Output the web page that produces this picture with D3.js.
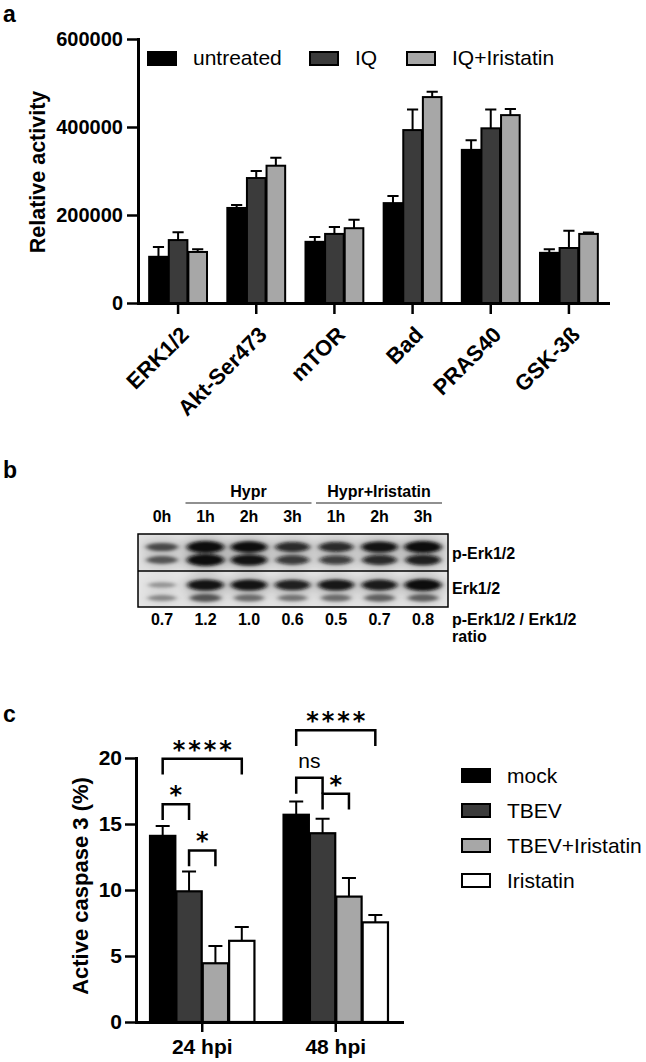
<!DOCTYPE html>
<html>
<head>
<meta charset="utf-8">
<script src="https://cdn.jsdelivr.net/npm/d3@7"></script>
<style>
  body { margin: 0; background: #fff; }
  svg { display: block; }
  text { font-family: "Liberation Sans", Arial, Helvetica, sans-serif; fill: #000; }
  text.star { font-family: "DejaVu Sans", sans-serif; }
</style>
</head>
<body>
<script>
// ---------- panel a : kinase activity ----------
var kinases      = ["ERK1/2", "Akt-Ser473", "mTOR", "Bad", "PRAS40", "GSK-3ß"];
var treatmentsA  = ["untreated", "IQ", "IQ+Iristatin"];
var untreated    = [105000, 216000, 139000, 227000, 348000, 114000];
var untreatedErr = [22000, 7000, 11000, 16000, 22000, 8000];
var iq           = [143000, 284000, 157000, 393000, 397000, 125000];
var iqErr        = [18000, 16000, 16000, 47000, 43000, 39000];
var iqIri        = [116000, 312000, 170000, 468000, 427000, 157000];
var iqIriErr     = [6000, 18000, 19000, 12000, 14000, 3000];
var yTicksA      = [0, 200000, 400000, 600000];

// ---------- panel b : western blot ----------
var lanes      = ["0h", "1h", "2h", "3h", "1h", "2h", "3h"];
var groupNames = ["Hypr", "Hypr+Iristatin"];
var groupLanes = [[1, 3], [4, 6]];
var ratios     = ["0.7", "1.2", "1.0", "0.6", "0.5", "0.7", "0.8"];
var pErkUpper  = [0.6, 1.0, 0.95, 0.8, 0.8, 0.92, 1.0];   // band intensity (0..1)
var pErkLower  = [0.55, 1.0, 0.92, 0.72, 0.7, 0.8, 0.85];
var erkUpper   = [0.3, 0.92, 0.92, 0.85, 0.9, 0.88, 0.98];
var erkLower   = [0.35, 0.55, 0.45, 0.42, 0.45, 0.5, 0.5];
var rowLabels  = ["p-Erk1/2", "Erk1/2"];

// ---------- panel c : active caspase 3 ----------
var times       = ["24 hpi", "48 hpi"];
var treatmentsC = ["mock", "TBEV", "TBEV+Iristatin", "Iristatin"];
var mock        = [14.1, 15.7];
var mockErr     = [0.75, 1.0];
var tbev        = [9.9, 14.3];
var tbevErr     = [1.5, 1.1];
var tbevIri     = [4.45, 9.5];
var tbevIriErr  = [1.3, 1.4];
var iri         = [6.15, 7.55];
var iriErr      = [1.05, 0.55];
var yTicksC     = [0, 5, 10, 15, 20];
// significance brackets
var sigTime  = [0, 0, 0, 1, 1, 1];
var sigFrom  = [0, 0, 1, 0, 0, 1];
var sigTo    = [3, 1, 2, 3, 1, 2];
var sigLevel = [19.95, 16.5, 13.0, 22.1, 18.5, 17.3];
var sigLabel = ["****", "*", "*", "****", "ns", "*"];

var svg = d3.select("body").append("svg").attr("width", 646).attr("height", 1062);
var defs = svg.append("defs");

//panel letters
svg.append("text").attr("x", 3).attr("y", 22).text("a").style("font-size", "23px").style("font-weight", "bold");
svg.append("text").attr("x", 3).attr("y", 478).text("b").style("font-size", "23px").style("font-weight", "bold");
svg.append("text").attr("x", 3).attr("y", 722).text("c").style("font-size", "23px").style("font-weight", "bold");

function styleAxis(g, size) {
	g.select(".domain").attr("stroke", "#000").attr("stroke-width", 3).attr("stroke-linecap", "square");
	g.selectAll(".tick line").attr("stroke", "#000").attr("stroke-width", 2.5);
	g.selectAll(".tick text").style("font-size", size + "px").style("font-weight", "bold");
}

/////////////////////////////////////////////////////////
////////////////////// panel a //////////////////////////
/////////////////////////////////////////////////////////
var gA = svg.append("g");
var seriesA = [untreated, iq, iqIri];
var errorsA = [untreatedErr, iqErr, iqIriErr];
var colorsA = ["#000000", "#3b3b3b", "#a7a7a7"];

var xA = d3.scaleBand().domain(kinases).range([139, 608]).paddingInner(0.26).paddingOuter(0.13);
var xA2 = d3.scaleBand().domain(treatmentsA).range([0, xA.bandwidth()]).paddingInner(0.05);
var yA = d3.scaleLinear().domain([0, 600000]).range([303, 39]);

treatmentsA.forEach(function(t, s) {
	var g = gA.append("g");
	//error bars (upper only)
	g.selectAll(".err").data(kinases).join("path")
		.attr("d", function(d, i) {
			var cx = xA(d) + xA2(t) + xA2.bandwidth() / 2,
				top = yA(seriesA[s][i] + errorsA[s][i]), w = xA2.bandwidth() * 0.3;
			return "M" + cx + "," + yA(seriesA[s][i]) + "V" + top + "M" + (cx - w) + "," + top + "H" + (cx + w);
		})
		.attr("stroke", "#000").attr("stroke-width", 2).attr("fill", "none");
	g.selectAll(".bar").data(kinases).join("rect")
		.attr("x", function(d) { return xA(d) + xA2(t); })
		.attr("y", function(d, i) { return yA(seriesA[s][i]); })
		.attr("width", xA2.bandwidth())
		.attr("height", function(d, i) { return yA(0) - yA(seriesA[s][i]); })
		.attr("fill", colorsA[s]).attr("stroke", "#000").attr("stroke-width", 2);
});

var axYA = gA.append("g").attr("transform", "translate(138,0)")
	.call(d3.axisLeft(yA).tickValues(yTicksA).tickFormat(d3.format("d")).tickSize(11).tickSizeOuter(0).tickPadding(4));
styleAxis(axYA, 20);

var axXA = gA.append("g").attr("transform", "translate(0,303)")
	.call(d3.axisBottom(xA).tickSize(11).tickSizeOuter(0));
styleAxis(axXA, 22);
axXA.selectAll(".tick text")
	.attr("y", 0).attr("dy", null)
	.attr("text-anchor", "end")
	.attr("transform", "translate(12,33) rotate(-45)");

gA.append("text").attr("transform", "translate(45,172) rotate(-90)")
	.attr("text-anchor", "middle").style("font-size", "21.5px").style("font-weight", "bold")
	.text("Relative activity");

//legend
var legAx = [148, 310, 407];
var legA = gA.selectAll(".legA").data(treatmentsA).join("g")
	.attr("transform", function(d, i) { return "translate(" + legAx[i] + ",52)"; });
legA.append("rect").attr("width", 28).attr("height", 13)
	.attr("fill", function(d, i) { return colorsA[i]; }).attr("stroke", "#000").attr("stroke-width", 2);
legA.append("text").attr("x", 45).attr("y", 13).style("font-size", "21px").text(function(d) { return d; });

/////////////////////////////////////////////////////////
////////////////////// panel b //////////////////////////
/////////////////////////////////////////////////////////
var gB = svg.append("g");
var xB = d3.scalePoint().domain(d3.range(lanes.length)).range([162, 423]);
var blot = {x: 138, y: 534, w: 310, h: 73, mid: 571};

defs.append("filter").attr("id", "bandBlur")
	.attr("x", "-50%").attr("y", "-150%").attr("width", "200%").attr("height", "400%")
	.append("feGaussianBlur").attr("stdDeviation", "2.6 1.8");
defs.append("filter").attr("id", "haloBlur")
	.attr("x", "-50%").attr("y", "-150%").attr("width", "200%").attr("height", "400%")
	.append("feGaussianBlur").attr("stdDeviation", "6 4");
defs.append("clipPath").attr("id", "blotClip").append("rect")
	.attr("x", blot.x).attr("y", blot.y).attr("width", blot.w).attr("height", blot.h);

gB.append("rect").attr("x", blot.x).attr("y", blot.y).attr("width", blot.w).attr("height", blot.mid - blot.y).attr("fill", "#e2e2e2");
gB.append("rect").attr("x", blot.x).attr("y", blot.mid).attr("width", blot.w).attr("height", blot.y + blot.h - blot.mid).attr("fill", "#e6e6e6");

var bandH = d3.scaleLinear().domain([0, 1]).range([1.3, 6]);
var bandW = d3.scaleLinear().domain([0, 1]).range([12, 18.5]);
var bandRows = [pErkUpper, pErkLower, erkUpper, erkLower];
var bandY = [547, 560, 585, 598];
var clipG = gB.append("g").attr("clip-path", "url(#blotClip)");
var halo = clipG.append("g").attr("filter", "url(#haloBlur)");
var bands = clipG.append("g").attr("filter", "url(#bandBlur)");
bandRows.forEach(function(row, r) {
	halo.selectAll(".halo" + r).data(row).join("ellipse")
		.attr("cx", function(d, i) { return xB(i); })
		.attr("cy", bandY[r])
		.attr("rx", function(d) { return bandW(d) + 4; })
		.attr("ry", function(d) { return bandH(d) + 4; })
		.attr("fill", "#000")
		.attr("fill-opacity", function(d) { return d * 0.22; });
	bands.selectAll(".band" + r).data(row).join("ellipse")
		.attr("cx", function(d, i) { return xB(i); })
		.attr("cy", bandY[r])
		.attr("rx", function(d) { return bandW(d); })
		.attr("ry", function(d) { return bandH(d); })
		.attr("fill", "#0a0a0a")
		.attr("fill-opacity", function(d) { return Math.min(1, d * 1.05); });
});
gB.append("rect").attr("x", blot.x).attr("y", blot.y).attr("width", blot.w).attr("height", blot.h)
	.attr("fill", "none").attr("stroke", "#000").attr("stroke-width", 1.5);
gB.append("line").attr("x1", blot.x).attr("x2", blot.x + blot.w).attr("y1", blot.mid).attr("y2", blot.mid)
	.attr("stroke", "#000").attr("stroke-width", 1.5);

gB.selectAll(".lane").data(lanes).join("text")
	.attr("x", function(d, i) { return xB(i); }).attr("y", 522)
	.attr("text-anchor", "middle").style("font-size", "16px").style("font-weight", "bold")
	.text(function(d) { return d; });
gB.selectAll(".ratio").data(ratios).join("text")
	.attr("x", function(d, i) { return xB(i); }).attr("y", 625)
	.attr("text-anchor", "middle").style("font-size", "16px").style("font-weight", "bold")
	.text(function(d) { return d; });

groupNames.forEach(function(n, i) {
	var x0 = xB(groupLanes[i][0]) - 20, x1 = xB(groupLanes[i][1]) + 19;
	gB.append("line").attr("x1", x0).attr("x2", x1).attr("y1", 503).attr("y2", 503).attr("stroke", "#222").attr("stroke-width", 1.2);
	gB.append("text").attr("x", (x0 + x1) / 2).attr("y", 497).attr("text-anchor", "middle")
		.style("font-size", "16px").style("font-weight", "bold").text(n);
});

gB.append("text").attr("x", 452).attr("y", 559).style("font-size", "16px").style("font-weight", "bold").text(rowLabels[0]);
gB.append("text").attr("x", 452).attr("y", 594).style("font-size", "16px").style("font-weight", "bold").text(rowLabels[1]);
gB.append("text").attr("x", 452).attr("y", 625).style("font-size", "16px").style("font-weight", "bold").text(rowLabels[0] + " / " + rowLabels[1]);
gB.append("text").attr("x", 452).attr("y", 642).style("font-size", "16px").style("font-weight", "bold").text("ratio");

/////////////////////////////////////////////////////////
////////////////////// panel c //////////////////////////
/////////////////////////////////////////////////////////
var gC = svg.append("g");
var seriesC = [mock, tbev, tbevIri, iri];
var errorsC = [mockErr, tbevErr, tbevIriErr, iriErr];
var colorsC = ["#000000", "#3b3b3b", "#a7a7a7", "#ffffff"];

var xC = d3.scaleBand().domain(times).range([136, 402]).paddingInner(0.218).paddingOuter(0.105);
var xC2 = d3.scaleBand().domain(treatmentsC).range([0, xC.bandwidth()]).paddingInner(0.04);
var yC = d3.scaleLinear().domain([0, 20]).range([1022, 758]);

treatmentsC.forEach(function(t, s) {
	var g = gC.append("g");
	g.selectAll(".err").data(times).join("path")
		.attr("d", function(d, i) {
			var cx = xC(d) + xC2(t) + xC2.bandwidth() / 2,
				top = yC(seriesC[s][i] + errorsC[s][i]), w = 7;
			return "M" + cx + "," + yC(seriesC[s][i]) + "V" + top + "M" + (cx - w) + "," + top + "H" + (cx + w);
		})
		.attr("stroke", "#000").attr("stroke-width", 2).attr("fill", "none");
	g.selectAll(".bar").data(times).join("rect")
		.attr("x", function(d) { return xC(d) + xC2(t); })
		.attr("y", function(d, i) { return yC(seriesC[s][i]); })
		.attr("width", xC2.bandwidth())
		.attr("height", function(d, i) { return yC(0) - yC(seriesC[s][i]); })
		.attr("fill", colorsC[s]).attr("stroke", "#000").attr("stroke-width", 2.2);
});

var axYC = gC.append("g").attr("transform", "translate(136,0)")
	.call(d3.axisLeft(yC).tickValues(yTicksC).tickSize(11).tickSizeOuter(0).tickPadding(3));
styleAxis(axYC, 21);
var axXC = gC.append("g").attr("transform", "translate(0,1022)")
	.call(d3.axisBottom(xC).tickSize(10).tickSizeOuter(0).tickPadding(7));
styleAxis(axXC, 21);

gC.append("text").attr("transform", "translate(88,886) rotate(-90)")
	.attr("text-anchor", "middle").style("font-size", "22px").style("font-weight", "bold")
	.text("Active caspase 3 (%)");

//significance brackets
function barCenter(ti, si) { return xC(times[ti]) + xC2(treatmentsC[si]) + xC2.bandwidth() / 2; }
var leg = yC(0) - yC(1.2);
sigLabel.forEach(function(lab, k) {
	var x0 = barCenter(sigTime[k], sigFrom[k]), x1 = barCenter(sigTime[k], sigTo[k]), y = yC(sigLevel[k]);
	gC.append("path").attr("d", "M" + x0 + "," + (y + leg) + "V" + y + "H" + x1 + "V" + (y + leg))
		.attr("fill", "none").attr("stroke", "#000").attr("stroke-width", 2.5);
	if (lab === "ns") {
		gC.append("text").attr("x", (x0 + x1) / 2).attr("y", y - 10)
			.attr("text-anchor", "middle").style("font-size", "21px").text(lab);
	} else {
		gC.append("text").attr("class", "star").attr("x", (x0 + x1) / 2 + 1.5).attr("y", y - 1)
			.attr("text-anchor", "middle")
			.style("font-size", "24px").style("font-weight", "bold").style("letter-spacing", "3px")
			.text(lab);
	}
});

//legend
var legC = gC.selectAll(".legC").data(treatmentsC).join("g")
	.attr("transform", function(d, i) { return "translate(462," + (769 + i * 35) + ")"; });
legC.append("rect").attr("width", 28).attr("height", 13)
	.attr("fill", function(d, i) { return colorsC[i]; }).attr("stroke", "#000").attr("stroke-width", 2);
legC.append("text").attr("x", 45).attr("y", 14).style("font-size", "21px").text(function(d) { return d; });
</script>
</body>
</html>
